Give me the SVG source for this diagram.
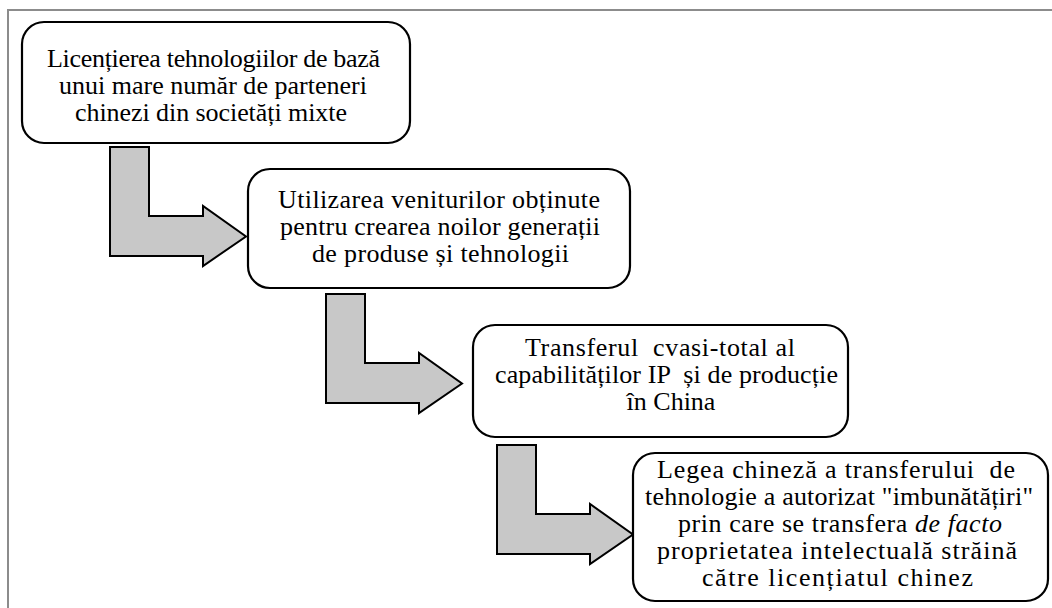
<svg xmlns="http://www.w3.org/2000/svg" width="1052" height="608" viewBox="0 0 1052 608">
<style>
.frame{fill:#fff;stroke:#8c8c8c;stroke-width:2}
.box{fill:#fff;stroke:#000;stroke-width:2.2}
.arr{fill:#c8c8c8;stroke:#000;stroke-width:2}
.t{font-family:"Liberation Serif","Times New Roman",serif;font-size:26px;fill:#000}
</style>
<defs>
<polygon id="arrowShape" class="arr" points="0,0 39,0 39,69 93,69 93,59 136,89.5 93,119 93,109 0,109"/>
</defs>
<rect width="1052" height="608" fill="#fff"/>
<rect class="frame" x="8" y="10" width="1060" height="620"/>
<g id="connectors">
<use href="#arrowShape" x="110" y="147"/>
<use href="#arrowShape" x="326" y="294"/>
<use href="#arrowShape" x="497" y="445"/>
</g>
<g id="node1">
<rect class="box" x="22" y="22" width="388" height="121" rx="22"/>
<text class="t" x="47" y="67" textLength="333" lengthAdjust="spacing">Licențierea tehnologiilor de bază</text>
<text class="t" x="59" y="94" textLength="308" lengthAdjust="spacing">unui mare număr de parteneri</text>
<text class="t" x="75" y="120.5" textLength="272" lengthAdjust="spacing">chinezi din societăți mixte</text>
</g>
<g id="node2">
<rect class="box" x="248" y="169" width="382" height="119" rx="22"/>
<text class="t" x="278" y="208" textLength="322" lengthAdjust="spacing">Utilizarea veniturilor obținute</text>
<text class="t" x="280" y="235" textLength="320" lengthAdjust="spacing">pentru crearea noilor generații</text>
<text class="t" x="312" y="262" textLength="257" lengthAdjust="spacing">de produse și tehnologii</text>
</g>
<g id="node3">
<rect class="box" x="473" y="325" width="375" height="112" rx="22"/>
<text class="t" x="525" y="356" textLength="270" lengthAdjust="spacing" xml:space="preserve">Transferul  cvasi-total al</text>
<text class="t" x="495" y="383" textLength="343" lengthAdjust="spacing" xml:space="preserve">capabilităților IP  și de producție</text>
<text class="t" x="671" y="410" text-anchor="middle">în China</text>
</g>
<g id="node4">
<rect class="box" x="633" y="453" width="415" height="148" rx="22"/>
<text class="t" x="657" y="478" textLength="358" lengthAdjust="spacing" xml:space="preserve">Legea chineză a transferului  de</text>
<text class="t" x="645" y="504.5" textLength="388" lengthAdjust="spacing">tehnologie a autorizat "imbunătățiri"</text>
<text class="t" x="678" y="531.5" textLength="324" lengthAdjust="spacing">prin care se transfera <tspan font-style="italic">de facto</tspan></text>
<text class="t" x="657" y="558.5" textLength="360" lengthAdjust="spacing">proprietatea intelectuală străină</text>
<text class="t" x="702" y="585.5" textLength="271" lengthAdjust="spacing">către licențiatul chinez</text>
</g>
</svg>
